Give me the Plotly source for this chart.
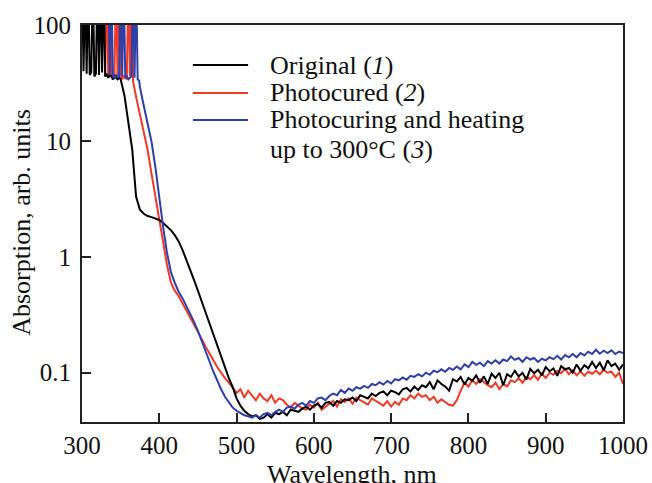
import plotly.graph_objects as go

# ---------------- data ----------------
# Original (1)
wl_1 = list(range(300, 350, 2)) + list(range(350, 1001, 5))
abs_1 = [
    250, 40, 250, 38, 250, 37, 39, 250, 36, 38, 250, 37, 250, 39, 250, 36, 38, 35, 37, 36, 34, 36, 35, 34, 35,
    34, 24.5, 14, 8.4, 3.3, 2.55, 2.35, 2.25, 2.2, 2.15,
    2.08, 1.96, 1.84, 1.7, 1.54, 1.36, 1.15, 0.95, 0.78, 0.63,
    0.51, 0.41, 0.33, 0.265, 0.21, 0.168, 0.135, 0.11, 0.09, 0.075,
    0.06, 0.052, 0.047, 0.044, 0.042, 0.043, 0.040, 0.041, 0.044, 0.041,
    0.045, 0.044, 0.046, 0.043, 0.048, 0.047, 0.046, 0.049, 0.051, 0.048,
    0.052, 0.054, 0.05, 0.055, 0.056, 0.052, 0.057, 0.055, 0.059, 0.058,
    0.061, 0.057, 0.064, 0.062, 0.06, 0.066, 0.063, 0.067, 0.069, 0.064,
    0.07, 0.068, 0.065, 0.072, 0.074, 0.069, 0.076, 0.071, 0.078, 0.075,
    0.083, 0.072, 0.086, 0.08, 0.076, 0.07, 0.088, 0.084, 0.092, 0.079,
    0.09, 0.085, 0.095, 0.082, 0.093, 0.08, 0.098, 0.09, 0.1, 0.078,
    0.097, 0.092, 0.104, 0.093, 0.1, 0.087, 0.108, 0.099, 0.106, 0.095,
    0.112, 0.103, 0.109, 0.094, 0.114, 0.107, 0.11, 0.1, 0.118, 0.104,
    0.116, 0.109, 0.124, 0.11, 0.122, 0.105, 0.128, 0.114, 0.12, 0.106,
    0.118,
]

# Photocured (2)
wl_2 = list(range(300, 368, 2)) + list(range(370, 1001, 5))
abs_2 = [
    250, 250, 250, 250, 250, 250, 250, 250, 250, 250, 250, 250, 250, 250, 250,
    36, 250, 35, 250, 37, 34, 36, 250, 35, 250, 36, 34, 36, 35, 34, 250, 36, 250, 33,
    24, 17, 12, 8.3, 5.2, 3.3,
    2.1, 1.35, 0.85, 0.6, 0.51, 0.46, 0.4, 0.35, 0.3, 0.26,
    0.225, 0.195, 0.168, 0.145, 0.128, 0.112, 0.1, 0.09, 0.082, 0.074,
    0.067, 0.072, 0.061, 0.07, 0.064, 0.058, 0.066, 0.06, 0.057, 0.064,
    0.055, 0.06, 0.058, 0.053, 0.05, 0.055, 0.052, 0.049, 0.048, 0.053,
    0.05, 0.055, 0.048, 0.051, 0.054, 0.057, 0.051, 0.059, 0.056, 0.06,
    0.054, 0.061, 0.058, 0.055, 0.053, 0.06, 0.057, 0.054, 0.052, 0.057,
    0.051, 0.056, 0.053, 0.06, 0.058, 0.064, 0.06, 0.066, 0.062, 0.064,
    0.058, 0.062, 0.055, 0.059, 0.056, 0.053, 0.052, 0.058, 0.07, 0.082,
    0.076, 0.086, 0.08, 0.088, 0.083, 0.078, 0.075, 0.082, 0.072, 0.08,
    0.076, 0.086, 0.083, 0.09, 0.082, 0.092, 0.088, 0.095, 0.087, 0.098,
    0.09, 0.1, 0.096, 0.104, 0.099, 0.108, 0.097, 0.105, 0.095, 0.103,
    0.094, 0.102, 0.098, 0.104, 0.097, 0.106, 0.1, 0.102, 0.092, 0.1,
    0.08,
]

# Photocuring and heating up to 300 C (3)
wl_3 = list(range(300, 376, 2)) + list(range(375, 1001, 5))
abs_3 = [
    250, 250, 250, 250, 250, 250, 250, 250, 250, 250, 250, 250, 250, 250, 250, 250, 250, 250,
    37, 250, 36, 35, 37, 36, 35, 250, 36, 250, 35, 36, 34, 35, 36, 250, 35, 250, 34, 33,
    29, 20, 14, 9.8, 5.9,
    3.1, 1.8, 1.08, 0.74, 0.6, 0.5, 0.44, 0.38, 0.325, 0.275,
    0.23, 0.19, 0.155, 0.125, 0.102, 0.085, 0.072, 0.062, 0.055, 0.05,
    0.047, 0.045, 0.043, 0.042, 0.041, 0.043, 0.041, 0.044, 0.045, 0.043,
    0.046, 0.048, 0.046, 0.05, 0.051, 0.049, 0.053, 0.055, 0.052, 0.057,
    0.055, 0.06, 0.061, 0.058, 0.063, 0.066, 0.064, 0.071, 0.067, 0.073,
    0.07, 0.075, 0.073, 0.077, 0.074, 0.08, 0.078, 0.083, 0.079, 0.085,
    0.081, 0.088, 0.086, 0.091, 0.087, 0.094, 0.092, 0.097, 0.093, 0.1,
    0.096, 0.104, 0.101, 0.107, 0.102, 0.11, 0.106, 0.113, 0.107, 0.118,
    0.112, 0.124, 0.117, 0.122, 0.114, 0.126, 0.12, 0.128, 0.12, 0.13,
    0.126, 0.138, 0.129, 0.134, 0.124, 0.136, 0.13, 0.134, 0.124, 0.132,
    0.128, 0.136, 0.131, 0.14, 0.13, 0.142, 0.136, 0.145, 0.136, 0.148,
    0.141, 0.152, 0.145, 0.158, 0.146, 0.155, 0.148, 0.156, 0.145, 0.152,
    0.148,
]

series_colors = ["#000000", "#ee3a26", "#2e3fa8"]

x_ticks = [300, 400, 500, 600, 700, 800, 900, 1000]
y_ticks = [0.1, 1, 10, 100]
y_tick_text = ["0.1", "1", "10", "100"]

FONT = "Times New Roman, Liberation Serif, serif"

# ---------------- figure ----------------
fig = go.Figure()
for wl, ab, col in [(wl_2, abs_2, series_colors[1]),
                    (wl_1, abs_1, series_colors[0]),
                    (wl_3, abs_3, series_colors[2])]:
    fig.add_trace(go.Scatter(x=wl, y=ab, mode="lines",
                             line=dict(color=col, width=2.0), showlegend=False))

# manual legend (paper coordinates)
leg_y = [0.899, 0.829, 0.761]
for yy, col in zip(leg_y, series_colors):
    fig.add_shape(type="line", xref="paper", yref="paper",
                  x0=0.205, x1=0.307, y0=yy, y1=yy,
                  line=dict(color=col, width=2))
leg_text = ["Original (<i>1</i>)", "Photocured (<i>2</i>)",
            "Photocuring and heating", "up to 300°C (<i>3</i>)"]
leg_text_y = [0.899, 0.829, 0.761, 0.686]
for t, yy in zip(leg_text, leg_text_y):
    fig.add_annotation(text=t, xref="paper", yref="paper", x=0.344, y=yy,
                       xanchor="left", yanchor="middle", showarrow=False,
                       font=dict(family=FONT, size=26, color="#111"))

# axis titles
fig.add_annotation(text="Wavelength, nm", xref="paper", yref="paper", x=0.499, y=-0.131,
                   xanchor="center", yanchor="middle", showarrow=False,
                   font=dict(family=FONT, size=26, color="#111"))
fig.add_annotation(text="Absorption, arb. units", xref="paper", yref="paper", x=-0.111, y=0.504,
                   xanchor="center", yanchor="middle", showarrow=False, textangle=-90,
                   font=dict(family=FONT, size=26, color="#111"))

fig.update_layout(
    width=652, height=483,
    margin=dict(l=82, r=29, t=25, b=61),
    paper_bgcolor="white", plot_bgcolor="white",
    font=dict(family=FONT, size=25, color="#111"),
    showlegend=False,
)
fig.update_xaxes(
    range=[300, 1000], tickvals=x_ticks, ticks="inside", ticklen=9, tickwidth=1.5,
    tickcolor="#222", showline=True, linecolor="#222", linewidth=2, mirror=True,
    showgrid=False, zeroline=False, ticklabelstandoff=0, automargin=False,
    tickfont=dict(family=FONT, size=25, color="#111"),
)
fig.update_yaxes(
    type="log", range=[-1.425, 2.0], tickvals=y_ticks, ticktext=y_tick_text,
    ticks="inside", ticklen=9, tickwidth=1.5, tickcolor="#222",
    showline=True, linecolor="#222", linewidth=2, mirror=True,
    showgrid=False, zeroline=False, ticklabelstandoff=4, automargin=False,
    tickfont=dict(family=FONT, size=25, color="#111"),
)

fig.write_html("out.html", config={"displayModeBar": False},
               post_script="document.body.style.margin='0';document.body.style.overflow='hidden';")
